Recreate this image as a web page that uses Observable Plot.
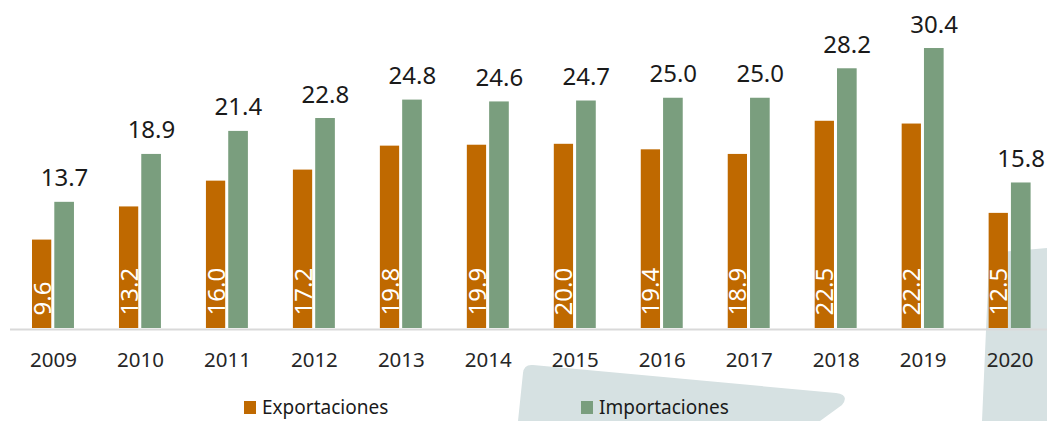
<!DOCTYPE html>
<html>
<head>
<meta charset="utf-8">
<script src="https://cdn.jsdelivr.net/npm/d3@7"></script>
<script src="https://cdn.jsdelivr.net/npm/@observablehq/plot@0.6"></script>
<style>
  html, body { margin: 0; padding: 0; background: #ffffff; }
  #wrap { position: relative; width: 1047px; height: 421px; overflow: hidden; font-family: "Noto Sans", sans-serif; }
  #bg { position: absolute; left: 0; top: 0; z-index: 0; }
  #chart { position: absolute; left: 0; top: 0; z-index: 1; }
  .leg { position: absolute; top: 394px; display: flex; align-items: center; font-size: 19px; color: #1a1a1a; z-index: 2; height: 26px; }
  .sw { width: 12px; height: 13px; margin-right: 6px; display: inline-block; }
</style>
</head>
<body>
<div id="wrap">
  <svg id="bg" width="1047" height="421">
    <path d="M518,421 L523,373 Q524,364 533,365 L836,393 Q850,395 842,405 L820,421 Z" fill="#d6e1e2"/>
    <path d="M982,421 L989,262 Q990,252 1000,252 L1047,248 L1047,421 Z" fill="#d6e1e2"/>
  </svg>
  <div id="chart"></div>
  <div class="leg" style="left:244px"><span class="sw" style="background:#bf6900"></span>Exportaciones</div>
  <div class="leg" style="left:581px"><span class="sw" style="background:#7a9e7e"></span>Importaciones</div>
</div>
<script>
const years = ["2009","2010","2011","2012","2013","2014","2015","2016","2017","2018","2019","2020"];
const exportaciones = [9.6, 13.2, 16.0, 17.2, 19.8, 19.9, 20.0, 19.4, 18.9, 22.5, 22.2, 12.5];
const importaciones = [13.7, 18.9, 21.4, 22.8, 24.8, 24.6, 24.7, 25.0, 25.0, 28.2, 30.4, 15.8];
const seriesNames = ["Exportaciones", "Importaciones"];
const colors = ["#bf6900", "#7a9e7e"];

const exp = years.map((y, i) => ({year: y, value: exportaciones[i]}));
const imp = years.map((y, i) => ({year: y, value: importaciones[i]}));

const chart = Plot.plot({
  width: 1047,
  height: 382,
  marginLeft: 10,
  marginRight: 0,
  marginTop: 5.65,
  marginBottom: 54,
  style: {background: "transparent", fontFamily: "Noto Sans, sans-serif"},
  x: {type: "band", domain: years, range: [9.5, 1053.1], padding: 0, round: false, label: null},
  y: {domain: [0, 35], axis: null},
  marks: [
    Plot.ruleY([0], {stroke: "#d9d9d9", strokeWidth: 2, dy: 1}),
    Plot.barY(exp, {x: "year", y: "value", fill: colors[0], insetLeft: 22.5, insetRight: 45.2}),
    Plot.barY(imp, {x: "year", y: "value", fill: colors[1], insetLeft: 44.8, insetRight: 22.5}),
    Plot.text(imp, {x: "year", y: "value", text: d => d.value.toFixed(1), dx: 11, dy: -16,
      lineAnchor: "bottom", fontSize: 24, fill: "#1a1a1a"}),
    Plot.text(exp, {x: "year", y: 0, text: d => d.value.toFixed(1), dx: -10.5, dy: -13,
      rotate: -90, textAnchor: "start", lineAnchor: "middle", fontSize: 24, fill: "#ffffff"}),
    Plot.axisX({tickSize: 0, tickPadding: 24, fontSize: 20.5, color: "#262626", label: null})
  ]
});
document.getElementById("chart").appendChild(chart);
</script>
</body>
</html>
